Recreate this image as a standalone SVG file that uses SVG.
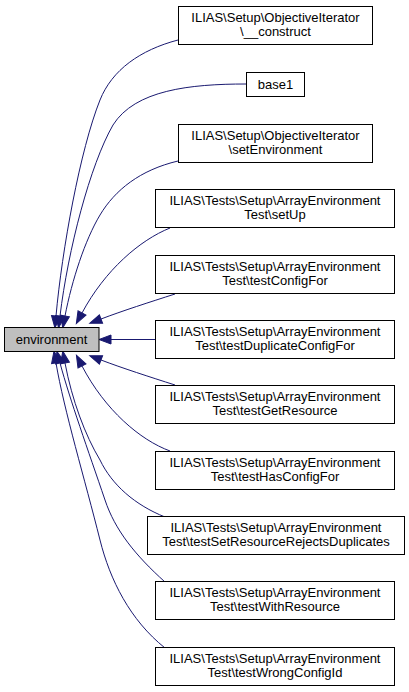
<svg xmlns="http://www.w3.org/2000/svg" width="409" height="692" viewBox="0 0 409 692">
<style>
.n rect{fill:#fff;stroke:#000;stroke-width:1}
#env rect{fill:#bfbfbf}
text{font-family:"Liberation Sans",Arial,sans-serif;font-size:13px;fill:#000;text-anchor:middle}
.e path{fill:none;stroke:#191970;stroke-width:1;marker-end:url(#ah)}
</style>
<defs>
<marker id="ah" markerUnits="userSpaceOnUse" markerWidth="14" markerHeight="12" refX="0" refY="5" orient="auto" viewBox="0 0 14 10" overflow="visible">
<path d="M0,0.5 L12,5 L0,9.5 Z" fill="#191970" stroke="#191970"/>
</marker>
</defs>
<rect width="409" height="692" fill="#fff"/>
<g class="e" id="edges">
<path d="M178,40 C140,50 112,70 100,100 C80,150 62,250 56,316"/>
<path d="M246,84 C190,84 135,90 113,125 C90,165 68,250 60,316"/>
<path d="M178,161 C140,170 115,190 100,215 C85,240 72,280 65,316"/>
<path d="M170,228 C140,240 105,270 82,313"/>
<path d="M175,294 C150,302 122,311 101,319"/>
<path d="M155,339.5 L111,339.5"/>
<path d="M175,385 C150,377 122,368 101,360"/>
<path d="M170,451 C140,440 105,410 82,366"/>
<path d="M165,517 C135,505 112,485 100,460 C85,435 72,400 65,363"/>
<path d="M165,582 C135,555 115,530 105,500 C88,450 70,400 60,363"/>
<path d="M165,648 C130,620 110,580 100,540 C85,480 64,410 56,363"/>
</g>
<g class="n" id="env"><rect x="4.5" y="327.5" width="94.5" height="24"/><text x="51.5" y="344">environment</text></g>
<g class="n" id="n1"><rect x="178.5" y="6.5" width="194" height="38"/><text x="275.5" y="22">ILIAS\Setup\ObjectiveIterator</text><text x="275.5" y="36">\__construct</text></g>
<g class="n" id="n2"><rect x="246.5" y="72.5" width="58" height="24"/><text x="275.5" y="89">base1</text></g>
<g class="n" id="n3"><rect x="178.5" y="124.5" width="194" height="38"/><text x="275.5" y="140">ILIAS\Setup\ObjectiveIterator</text><text x="275.5" y="154">\setEnvironment</text></g>
<g class="n" id="n4"><rect x="155.5" y="189.5" width="239" height="38"/><text x="275" y="205">ILIAS\Tests\Setup\ArrayEnvironment</text><text x="275" y="219">Test\setUp</text></g>
<g class="n" id="n5"><rect x="155.5" y="255.5" width="239" height="38"/><text x="275" y="271">ILIAS\Tests\Setup\ArrayEnvironment</text><text x="275" y="285">Test\testConfigFor</text></g>
<g class="n" id="n6"><rect x="155.5" y="320.5" width="239" height="38"/><text x="275" y="336">ILIAS\Tests\Setup\ArrayEnvironment</text><text x="275" y="350">Test\testDuplicateConfigFor</text></g>
<g class="n" id="n7"><rect x="155.5" y="385.5" width="239" height="38"/><text x="275" y="401">ILIAS\Tests\Setup\ArrayEnvironment</text><text x="275" y="415">Test\testGetResource</text></g>
<g class="n" id="n8"><rect x="155.5" y="451.5" width="239" height="38"/><text x="275" y="467">ILIAS\Tests\Setup\ArrayEnvironment</text><text x="275" y="481">Test\testHasConfigFor</text></g>
<g class="n" id="n9"><rect x="147.5" y="516.5" width="257" height="38"/><text x="276" y="532">ILIAS\Tests\Setup\ArrayEnvironment</text><text x="276" y="546">Test\testSetResourceRejectsDuplicates</text></g>
<g class="n" id="n10"><rect x="155.5" y="581.5" width="239" height="38"/><text x="275" y="597">ILIAS\Tests\Setup\ArrayEnvironment</text><text x="275" y="611">Test\testWithResource</text></g>
<g class="n" id="n11"><rect x="155.5" y="647.5" width="239" height="38"/><text x="275" y="663">ILIAS\Tests\Setup\ArrayEnvironment</text><text x="275" y="677">Test\testWrongConfigId</text></g>
</svg>
